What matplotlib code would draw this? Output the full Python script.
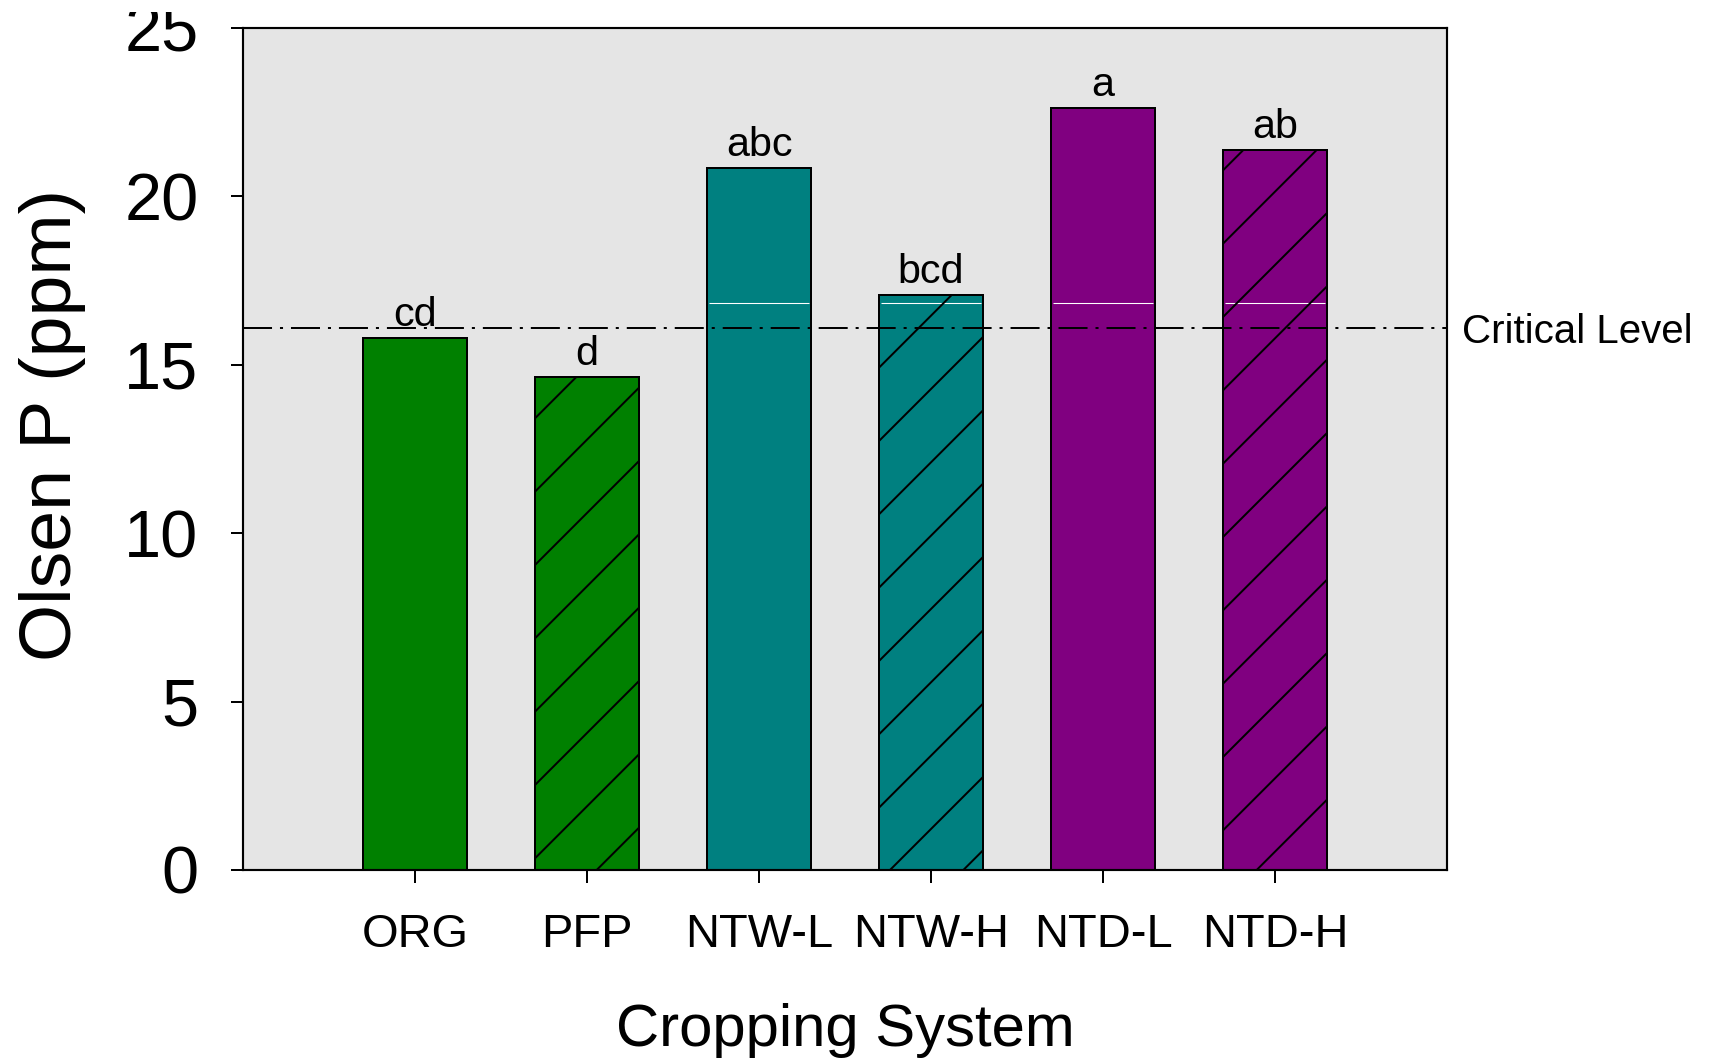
import matplotlib

matplotlib.use("Agg")
import matplotlib.pyplot as plt
import matplotlib.transforms as mtransforms
from matplotlib.patches import Rectangle


systems = ["ORG", "PFP", "NTW-L", "NTW-H", "NTD-L", "NTD-H"]
olsen_p = [15.8, 14.65, 20.85, 17.08, 22.62, 21.38]
letters = ["cd", "d", "abc", "bcd", "a", "ab"]
bar_colors = ["#008000", "#008000", "#008080", "#008080", "#800080", "#800080"]
bar_hatches = ["", "/", "", "/", "", "/"]
critical_level = 16.1
white_line_level = 16.83  # thin white line visible inside the taller bars

DPI = 220
plt.rcParams["font.family"] = ["Liberation Sans", "DejaVu Sans"]
plt.rcParams["hatch.linewidth"] = 0.65
plt.rcParams["lines.scale_dashes"] = False

fig = plt.figure(figsize=(1710 / DPI, 1060 / DPI), dpi=DPI)
ax = fig.add_axes([243 / 1710, 1 - 870 / 1060, (1447 - 243) / 1710, (870 - 28) / 1060])
ax.set_facecolor("#e5e5e5")

x = list(range(1, len(systems) + 1))
width = 0.6

# filled bars, then a white line, then the hatch on top
ax.bar(x, olsen_p, width=width, color=bar_colors, edgecolor="black",
       linewidth=0.65, zorder=2)
for xi, v in zip(x, olsen_p):
    if v > white_line_level:
        ax.hlines(white_line_level, xi - width / 2 + 0.01, xi + width / 2 - 0.01,
                  color="white", lw=0.35, zorder=2.5)
ax.bar(x, olsen_p, width=width, facecolor="none", edgecolor="black",
       hatch=bar_hatches, linewidth=0.65, zorder=3)

for xi, v, lab in zip(x, olsen_p, letters):
    ax.annotate(lab, (xi, v), xytext=(0, 1.2), textcoords="offset points",
                ha="center", va="bottom", fontsize=13.5, zorder=4)

ax.axhline(critical_level, color="black", lw=0.65,
           linestyle=(0, (9.5, 2.6, 1.0, 2.6)), zorder=3.5)
trans = mtransforms.blended_transform_factory(ax.transAxes, ax.transData)
ax.annotate("Critical Level", (1, critical_level), xycoords=trans,
            xytext=(5, 0), textcoords="offset points",
            ha="left", va="center_baseline", fontsize=13.2, annotation_clip=False)

ax.set_xlim(0, 7)
ax.set_ylim(0, 25)
ax.set_xticks(x)
ax.set_xticklabels(systems)
ax.set_yticks([0, 5, 10, 15, 20, 25])

ax.tick_params(axis="x", direction="out", length=4.2, width=0.65,
               labelsize=15.4, pad=10)
ax.tick_params(axis="y", direction="out", length=3.9, width=0.65,
               labelsize=21.8, pad=10.7)
for sp in ax.spines.values():
    sp.set_linewidth(0.7)

ax.set_xlabel("Cropping System", fontsize=19.6, labelpad=15)
ax.set_ylabel("Olsen P (ppm)", fontsize=24, labelpad=12.5)
ax.yaxis.label.set_y(0.5285)

# the source image is cropped along its top edge (the "25" is cut off)
fig.patches.append(Rectangle((0, 1 - 12 / 1060), 1, 12 / 1060,
                             transform=fig.transFigure, facecolor="white",
                             edgecolor="none", zorder=10))

fig.savefig("out.png", dpi=DPI)
